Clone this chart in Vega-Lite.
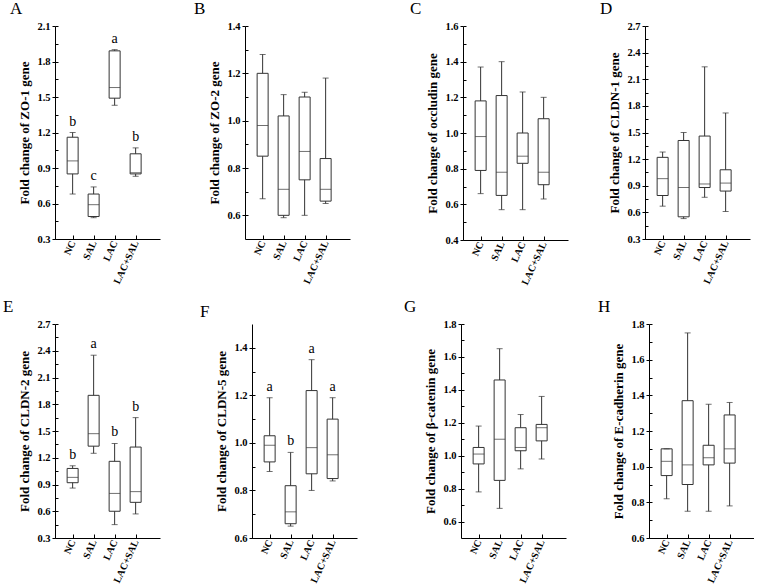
{
  "$schema": "https://vega.github.io/schema/vega-lite/v6.json",
  "background": "white",
  "padding": {"left": 3, "top": 0, "right": 0, "bottom": 0},
  "config": {
    "view": {"stroke": null},
    "font": "Liberation Serif",
    "axis": {"domainColor": "#000", "tickColor": "#000", "labelColor": "#000", "titleColor": "#000", "labelFont": "Liberation Serif", "titleFont": "Liberation Serif", "labelFontWeight": "bold", "titleFontWeight": "bold", "labelFontSize": 10, "titleFontSize": 13, "grid": false, "domainWidth": 1, "tickWidth": 1},
    "axisX": {"tickSize": -4, "labelAngle": -65, "labelPadding": 6, "title": null},
    "axisY": {"tickSize": 3, "labelPadding": 2, "titlePadding": 5, "format": ".1f", "labelFontSize": 10.5},
    "title": {"font": "Liberation Serif", "fontSize": 17, "fontWeight": "normal", "anchor": "start", "frame": "group", "offset": 3, "color": "#000"},
    "tick": {"color": "#333", "thickness": 1},
    "rule": {"color": "#333", "strokeWidth": 1},
    "bar": {"fill": "white", "stroke": "#333", "strokeWidth": 1},
    "text": {"font": "Liberation Serif", "fontSize": 14, "fill": "#000"}
  },
  "data": {"values": [
    {"panel": "A", "group": "NC", "min": 0.68, "q1": 0.85, "median": 0.96, "q3": 1.16, "max": 1.20, "letter": "b"},
    {"panel": "A", "group": "SAL", "min": 0.48, "q1": 0.49, "median": 0.59, "q3": 0.68, "max": 0.74, "letter": "c"},
    {"panel": "A", "group": "LAC", "min": 1.43, "q1": 1.49, "median": 1.58, "q3": 1.89, "max": 1.90, "letter": "a"},
    {"panel": "A", "group": "LAC+SAL", "min": 0.83, "q1": 0.85, "median": 0.86, "q3": 1.02, "max": 1.07, "letter": "b"},
    {"panel": "B", "group": "NC", "min": 0.67, "q1": 0.85, "median": 0.98, "q3": 1.20, "max": 1.28, "letter": ""},
    {"panel": "B", "group": "SAL", "min": 0.59, "q1": 0.60, "median": 0.71, "q3": 1.02, "max": 1.11, "letter": ""},
    {"panel": "B", "group": "LAC", "min": 0.60, "q1": 0.75, "median": 0.87, "q3": 1.10, "max": 1.12, "letter": ""},
    {"panel": "B", "group": "LAC+SAL", "min": 0.65, "q1": 0.66, "median": 0.71, "q3": 0.84, "max": 1.18, "letter": ""},
    {"panel": "C", "group": "NC", "min": 0.66, "q1": 0.79, "median": 0.98, "q3": 1.18, "max": 1.37, "letter": ""},
    {"panel": "C", "group": "SAL", "min": 0.57, "q1": 0.65, "median": 0.78, "q3": 1.21, "max": 1.40, "letter": ""},
    {"panel": "C", "group": "LAC", "min": 0.57, "q1": 0.83, "median": 0.87, "q3": 1.00, "max": 1.23, "letter": ""},
    {"panel": "C", "group": "LAC+SAL", "min": 0.63, "q1": 0.71, "median": 0.78, "q3": 1.08, "max": 1.20, "letter": ""},
    {"panel": "D", "group": "NC", "min": 0.67, "q1": 0.79, "median": 0.98, "q3": 1.22, "max": 1.28, "letter": ""},
    {"panel": "D", "group": "SAL", "min": 0.53, "q1": 0.55, "median": 0.88, "q3": 1.41, "max": 1.50, "letter": ""},
    {"panel": "D", "group": "LAC", "min": 0.77, "q1": 0.88, "median": 0.92, "q3": 1.46, "max": 2.24, "letter": ""},
    {"panel": "D", "group": "LAC+SAL", "min": 0.61, "q1": 0.84, "median": 0.93, "q3": 1.08, "max": 1.72, "letter": ""},
    {"panel": "E", "group": "NC", "min": 0.86, "q1": 0.92, "median": 0.98, "q3": 1.08, "max": 1.11, "letter": "b"},
    {"panel": "E", "group": "SAL", "min": 1.25, "q1": 1.33, "median": 1.47, "q3": 1.90, "max": 2.35, "letter": "a"},
    {"panel": "E", "group": "LAC", "min": 0.45, "q1": 0.60, "median": 0.80, "q3": 1.16, "max": 1.36, "letter": "b"},
    {"panel": "E", "group": "LAC+SAL", "min": 0.57, "q1": 0.70, "median": 0.82, "q3": 1.32, "max": 1.65, "letter": "b"},
    {"panel": "F", "group": "NC", "min": 0.88, "q1": 0.92, "median": 0.99, "q3": 1.03, "max": 1.19, "letter": "a"},
    {"panel": "F", "group": "SAL", "min": 0.65, "q1": 0.66, "median": 0.71, "q3": 0.82, "max": 0.96, "letter": "b"},
    {"panel": "F", "group": "LAC", "min": 0.80, "q1": 0.87, "median": 0.98, "q3": 1.22, "max": 1.35, "letter": "a"},
    {"panel": "F", "group": "LAC+SAL", "min": 0.84, "q1": 0.85, "median": 0.95, "q3": 1.10, "max": 1.19, "letter": "a"},
    {"panel": "G", "group": "NC", "min": 0.78, "q1": 0.95, "median": 1.01, "q3": 1.05, "max": 1.18, "letter": ""},
    {"panel": "G", "group": "SAL", "min": 0.68, "q1": 0.85, "median": 1.10, "q3": 1.46, "max": 1.65, "letter": ""},
    {"panel": "G", "group": "LAC", "min": 0.92, "q1": 1.03, "median": 1.05, "q3": 1.17, "max": 1.25, "letter": ""},
    {"panel": "G", "group": "LAC+SAL", "min": 0.98, "q1": 1.09, "median": 1.17, "q3": 1.19, "max": 1.36, "letter": ""},
    {"panel": "H", "group": "NC", "min": 0.82, "q1": 0.95, "median": 1.03, "q3": 1.10, "max": 1.10, "letter": ""},
    {"panel": "H", "group": "SAL", "min": 0.75, "q1": 0.90, "median": 1.01, "q3": 1.37, "max": 1.75, "letter": ""},
    {"panel": "H", "group": "LAC", "min": 0.75, "q1": 1.01, "median": 1.05, "q3": 1.12, "max": 1.35, "letter": ""},
    {"panel": "H", "group": "LAC+SAL", "min": 0.78, "q1": 1.02, "median": 1.10, "q3": 1.29, "max": 1.36, "letter": ""}
  ]},
  "spacing": 11,
  "vconcat": [
    {
      "spacing": 60,
      "hconcat": [
        {
          "spacing": 34,
          "hconcat": [
            {
              "title": {"text": "A", "dx": -45},
              "width": 105, "height": 213,
              "transform": [{"filter": "datum.panel == 'A'"}],
              "encoding": {"x": {"field": "group", "type": "nominal", "sort": ["NC", "SAL", "LAC", "LAC+SAL"], "scale": {"type": "point", "padding": 1.125, "align": 0.42}}},
              "layer": [
                {"mark": "rule", "encoding": {"y": {"field": "min", "type": "quantitative", "scale": {"domain": [0.3, 2.1], "nice": false, "zero": false}, "axis": {"title": "Fold change of ZO-1 gene", "values": [0.3, 0.6, 0.9, 1.2, 1.5, 1.8, 2.1]}}, "y2": {"field": "max"}}},
                {"mark": {"type": "bar", "size": 11}, "encoding": {"y": {"field": "q1", "type": "quantitative", "scale": {"domain": [0.3, 2.1], "nice": false, "zero": false}, "axis": null}, "y2": {"field": "q3"}}},
                {"mark": {"type": "tick", "size": 11}, "encoding": {"y": {"field": "median", "type": "quantitative", "scale": {"domain": [0.3, 2.1], "nice": false, "zero": false}, "axis": null}}},
                {"mark": {"type": "tick", "size": 6}, "encoding": {"y": {"field": "min", "type": "quantitative", "scale": {"domain": [0.3, 2.1], "nice": false, "zero": false}, "axis": null}}},
                {"mark": {"type": "tick", "size": 6}, "encoding": {"y": {"field": "max", "type": "quantitative", "scale": {"domain": [0.3, 2.1], "nice": false, "zero": false}, "axis": null}}},
                {"mark": {"type": "text", "baseline": "bottom", "dy": -4, "fill": "#000"}, "encoding": {"y": {"field": "max", "type": "quantitative", "scale": {"domain": [0.3, 2.1], "nice": false, "zero": false}, "axis": null}, "text": {"field": "letter"}}},
                {"mark": {"type": "tick", "opacity": 0}, "encoding": {"y": {"field": "median", "type": "quantitative", "scale": {"domain": [0.3, 2.1], "nice": false, "zero": false}, "axis": {"orient": "left", "title": null, "labels": false, "domain": false, "tickSize": -3, "values": [0.3, 0.45, 0.6, 0.75, 0.9, 1.05, 1.2, 1.35, 1.5, 1.65, 1.8, 1.95, 2.1]}}}}
              ],
              "resolve": {"axis": {"y": "independent"}}
            },
            {
              "title": {"text": "B", "dx": -51},
              "width": 105, "height": 213,
              "transform": [{"filter": "datum.panel == 'B'"}],
              "encoding": {"x": {"field": "group", "type": "nominal", "sort": ["NC", "SAL", "LAC", "LAC+SAL"], "scale": {"type": "point", "padding": 1.125, "align": 0.42}}},
              "layer": [
                {"mark": "rule", "encoding": {"y": {"field": "min", "type": "quantitative", "scale": {"domain": [0.5, 1.4], "nice": false, "zero": false}, "axis": {"title": "Fold change of ZO-2 gene", "values": [0.6, 0.8, 1.0, 1.2, 1.4]}}, "y2": {"field": "max"}}},
                {"mark": {"type": "bar", "size": 11}, "encoding": {"y": {"field": "q1", "type": "quantitative", "scale": {"domain": [0.5, 1.4], "nice": false, "zero": false}, "axis": null}, "y2": {"field": "q3"}}},
                {"mark": {"type": "tick", "size": 11}, "encoding": {"y": {"field": "median", "type": "quantitative", "scale": {"domain": [0.5, 1.4], "nice": false, "zero": false}, "axis": null}}},
                {"mark": {"type": "tick", "size": 6}, "encoding": {"y": {"field": "min", "type": "quantitative", "scale": {"domain": [0.5, 1.4], "nice": false, "zero": false}, "axis": null}}},
                {"mark": {"type": "tick", "size": 6}, "encoding": {"y": {"field": "max", "type": "quantitative", "scale": {"domain": [0.5, 1.4], "nice": false, "zero": false}, "axis": null}}},
                {"mark": {"type": "tick", "opacity": 0}, "encoding": {"y": {"field": "median", "type": "quantitative", "scale": {"domain": [0.5, 1.4], "nice": false, "zero": false}, "axis": {"orient": "left", "title": null, "labels": false, "domain": false, "tickSize": -3, "values": [0.6, 0.7, 0.8, 0.9, 1.0, 1.1, 1.2, 1.3, 1.4]}}}}
              ],
              "resolve": {"axis": {"y": "independent"}}
            }
          ]
        },
        {
          "spacing": 32,
          "hconcat": [
            {
              "title": {"text": "C", "dx": -53},
              "width": 105, "height": 214,
              "transform": [{"filter": "datum.panel == 'C'"}],
              "encoding": {"x": {"field": "group", "type": "nominal", "sort": ["NC", "SAL", "LAC", "LAC+SAL"], "scale": {"type": "point", "padding": 1.125, "align": 0.42}}},
              "layer": [
                {"mark": "rule", "encoding": {"y": {"field": "min", "type": "quantitative", "scale": {"domain": [0.4, 1.6], "nice": false, "zero": false}, "axis": {"title": "Fold change of occludin gene", "values": [0.4, 0.6, 0.8, 1.0, 1.2, 1.4, 1.6]}}, "y2": {"field": "max"}}},
                {"mark": {"type": "bar", "size": 11}, "encoding": {"y": {"field": "q1", "type": "quantitative", "scale": {"domain": [0.4, 1.6], "nice": false, "zero": false}, "axis": null}, "y2": {"field": "q3"}}},
                {"mark": {"type": "tick", "size": 11}, "encoding": {"y": {"field": "median", "type": "quantitative", "scale": {"domain": [0.4, 1.6], "nice": false, "zero": false}, "axis": null}}},
                {"mark": {"type": "tick", "size": 6}, "encoding": {"y": {"field": "min", "type": "quantitative", "scale": {"domain": [0.4, 1.6], "nice": false, "zero": false}, "axis": null}}},
                {"mark": {"type": "tick", "size": 6}, "encoding": {"y": {"field": "max", "type": "quantitative", "scale": {"domain": [0.4, 1.6], "nice": false, "zero": false}, "axis": null}}},
                {"mark": {"type": "tick", "opacity": 0}, "encoding": {"y": {"field": "median", "type": "quantitative", "scale": {"domain": [0.4, 1.6], "nice": false, "zero": false}, "axis": {"orient": "left", "title": null, "labels": false, "domain": false, "tickSize": -3, "values": [0.4, 0.5, 0.6, 0.7, 0.8, 0.9, 1.0, 1.1, 1.2, 1.3, 1.4, 1.5, 1.6]}}}}
              ],
              "resolve": {"axis": {"y": "independent"}}
            },
            {
              "title": {"text": "D", "dx": -45},
              "width": 105, "height": 213,
              "transform": [{"filter": "datum.panel == 'D'"}],
              "encoding": {"x": {"field": "group", "type": "nominal", "sort": ["NC", "SAL", "LAC", "LAC+SAL"], "scale": {"type": "point", "padding": 1.125, "align": 0.42}}},
              "layer": [
                {"mark": "rule", "encoding": {"y": {"field": "min", "type": "quantitative", "scale": {"domain": [0.3, 2.7], "nice": false, "zero": false}, "axis": {"title": "Fold change of CLDN-1 gene", "values": [0.3, 0.6, 0.9, 1.2, 1.5, 1.8, 2.1, 2.4, 2.7]}}, "y2": {"field": "max"}}},
                {"mark": {"type": "bar", "size": 11}, "encoding": {"y": {"field": "q1", "type": "quantitative", "scale": {"domain": [0.3, 2.7], "nice": false, "zero": false}, "axis": null}, "y2": {"field": "q3"}}},
                {"mark": {"type": "tick", "size": 11}, "encoding": {"y": {"field": "median", "type": "quantitative", "scale": {"domain": [0.3, 2.7], "nice": false, "zero": false}, "axis": null}}},
                {"mark": {"type": "tick", "size": 6}, "encoding": {"y": {"field": "min", "type": "quantitative", "scale": {"domain": [0.3, 2.7], "nice": false, "zero": false}, "axis": null}}},
                {"mark": {"type": "tick", "size": 6}, "encoding": {"y": {"field": "max", "type": "quantitative", "scale": {"domain": [0.3, 2.7], "nice": false, "zero": false}, "axis": null}}},
                {"mark": {"type": "tick", "opacity": 0}, "encoding": {"y": {"field": "median", "type": "quantitative", "scale": {"domain": [0.3, 2.7], "nice": false, "zero": false}, "axis": {"orient": "left", "title": null, "labels": false, "domain": false, "tickSize": -3, "values": [0.3, 0.45, 0.6, 0.75, 0.9, 1.05, 1.2, 1.35, 1.5, 1.65, 1.8, 1.95, 2.1, 2.25, 2.4, 2.55, 2.7]}}}}
              ],
              "resolve": {"axis": {"y": "independent"}}
            }
          ]
        }
      ]
    },
    {
      "spacing": 47,
      "hconcat": [
        {
          "spacing": 40,
          "hconcat": [
            {
              "title": {"text": "E", "dx": -52},
              "width": 105, "height": 214,
              "transform": [{"filter": "datum.panel == 'E'"}],
              "encoding": {"x": {"field": "group", "type": "nominal", "sort": ["NC", "SAL", "LAC", "LAC+SAL"], "scale": {"type": "point", "padding": 1.125, "align": 0.42}}},
              "layer": [
                {"mark": "rule", "encoding": {"y": {"field": "min", "type": "quantitative", "scale": {"domain": [0.3, 2.7], "nice": false, "zero": false}, "axis": {"title": "Fold change of CLDN-2 gene", "values": [0.3, 0.6, 0.9, 1.2, 1.5, 1.8, 2.1, 2.4, 2.7]}}, "y2": {"field": "max"}}},
                {"mark": {"type": "bar", "size": 11}, "encoding": {"y": {"field": "q1", "type": "quantitative", "scale": {"domain": [0.3, 2.7], "nice": false, "zero": false}, "axis": null}, "y2": {"field": "q3"}}},
                {"mark": {"type": "tick", "size": 11}, "encoding": {"y": {"field": "median", "type": "quantitative", "scale": {"domain": [0.3, 2.7], "nice": false, "zero": false}, "axis": null}}},
                {"mark": {"type": "tick", "size": 6}, "encoding": {"y": {"field": "min", "type": "quantitative", "scale": {"domain": [0.3, 2.7], "nice": false, "zero": false}, "axis": null}}},
                {"mark": {"type": "tick", "size": 6}, "encoding": {"y": {"field": "max", "type": "quantitative", "scale": {"domain": [0.3, 2.7], "nice": false, "zero": false}, "axis": null}}},
                {"mark": {"type": "text", "baseline": "bottom", "dy": -4, "fill": "#000"}, "encoding": {"y": {"field": "max", "type": "quantitative", "scale": {"domain": [0.3, 2.7], "nice": false, "zero": false}, "axis": null}, "text": {"field": "letter"}}},
                {"mark": {"type": "tick", "opacity": 0}, "encoding": {"y": {"field": "median", "type": "quantitative", "scale": {"domain": [0.3, 2.7], "nice": false, "zero": false}, "axis": {"orient": "left", "title": null, "labels": false, "domain": false, "tickSize": -3, "values": [0.3, 0.45, 0.6, 0.75, 0.9, 1.05, 1.2, 1.35, 1.5, 1.65, 1.8, 1.95, 2.1, 2.25, 2.4, 2.55, 2.7]}}}}
              ],
              "resolve": {"axis": {"y": "independent"}}
            },
            {
              "title": {"text": "F", "dx": -52},
              "width": 105, "height": 214,
              "transform": [{"filter": "datum.panel == 'F'"}],
              "encoding": {"x": {"field": "group", "type": "nominal", "sort": ["NC", "SAL", "LAC", "LAC+SAL"], "scale": {"type": "point", "padding": 1.125, "align": 0.42}}},
              "layer": [
                {"mark": "rule", "encoding": {"y": {"field": "min", "type": "quantitative", "scale": {"domain": [0.6, 1.5], "nice": false, "zero": false}, "axis": {"title": "Fold change of CLDN-5 gene", "values": [0.6, 0.8, 1.0, 1.2, 1.4]}}, "y2": {"field": "max"}}},
                {"mark": {"type": "bar", "size": 11}, "encoding": {"y": {"field": "q1", "type": "quantitative", "scale": {"domain": [0.6, 1.5], "nice": false, "zero": false}, "axis": null}, "y2": {"field": "q3"}}},
                {"mark": {"type": "tick", "size": 11}, "encoding": {"y": {"field": "median", "type": "quantitative", "scale": {"domain": [0.6, 1.5], "nice": false, "zero": false}, "axis": null}}},
                {"mark": {"type": "tick", "size": 6}, "encoding": {"y": {"field": "min", "type": "quantitative", "scale": {"domain": [0.6, 1.5], "nice": false, "zero": false}, "axis": null}}},
                {"mark": {"type": "tick", "size": 6}, "encoding": {"y": {"field": "max", "type": "quantitative", "scale": {"domain": [0.6, 1.5], "nice": false, "zero": false}, "axis": null}}},
                {"mark": {"type": "text", "baseline": "bottom", "dy": -4, "fill": "#000"}, "encoding": {"y": {"field": "max", "type": "quantitative", "scale": {"domain": [0.6, 1.5], "nice": false, "zero": false}, "axis": null}, "text": {"field": "letter"}}},
                {"mark": {"type": "tick", "opacity": 0}, "encoding": {"y": {"field": "median", "type": "quantitative", "scale": {"domain": [0.6, 1.5], "nice": false, "zero": false}, "axis": {"orient": "left", "title": null, "labels": false, "domain": false, "tickSize": -3, "values": [0.6, 0.7, 0.8, 0.9, 1.0, 1.1, 1.2, 1.3, 1.4]}}}}
              ],
              "resolve": {"axis": {"y": "independent"}}
            }
          ]
        },
        {
          "spacing": 32,
          "hconcat": [
            {
              "title": {"text": "G", "dx": -57},
              "width": 105, "height": 214,
              "transform": [{"filter": "datum.panel == 'G'"}],
              "encoding": {"x": {"field": "group", "type": "nominal", "sort": ["NC", "SAL", "LAC", "LAC+SAL"], "scale": {"type": "point", "padding": 1.125, "align": 0.42}}},
              "layer": [
                {"mark": "rule", "encoding": {"y": {"field": "min", "type": "quantitative", "scale": {"domain": [0.5, 1.8], "nice": false, "zero": false}, "axis": {"title": "Fold change of β-catenin gene", "values": [0.6, 0.8, 1.0, 1.2, 1.4, 1.6, 1.8]}}, "y2": {"field": "max"}}},
                {"mark": {"type": "bar", "size": 11}, "encoding": {"y": {"field": "q1", "type": "quantitative", "scale": {"domain": [0.5, 1.8], "nice": false, "zero": false}, "axis": null}, "y2": {"field": "q3"}}},
                {"mark": {"type": "tick", "size": 11}, "encoding": {"y": {"field": "median", "type": "quantitative", "scale": {"domain": [0.5, 1.8], "nice": false, "zero": false}, "axis": null}}},
                {"mark": {"type": "tick", "size": 6}, "encoding": {"y": {"field": "min", "type": "quantitative", "scale": {"domain": [0.5, 1.8], "nice": false, "zero": false}, "axis": null}}},
                {"mark": {"type": "tick", "size": 6}, "encoding": {"y": {"field": "max", "type": "quantitative", "scale": {"domain": [0.5, 1.8], "nice": false, "zero": false}, "axis": null}}},
                {"mark": {"type": "tick", "opacity": 0}, "encoding": {"y": {"field": "median", "type": "quantitative", "scale": {"domain": [0.5, 1.8], "nice": false, "zero": false}, "axis": {"orient": "left", "title": null, "labels": false, "domain": false, "tickSize": -3, "values": [0.6, 0.7, 0.8, 0.9, 1.0, 1.1, 1.2, 1.3, 1.4, 1.5, 1.6, 1.7, 1.8]}}}}
              ],
              "resolve": {"axis": {"y": "independent"}}
            },
            {
              "title": {"text": "H", "dx": -51},
              "width": 105, "height": 214,
              "transform": [{"filter": "datum.panel == 'H'"}],
              "encoding": {"x": {"field": "group", "type": "nominal", "sort": ["NC", "SAL", "LAC", "LAC+SAL"], "scale": {"type": "point", "padding": 1.125, "align": 0.42}}},
              "layer": [
                {"mark": "rule", "encoding": {"y": {"field": "min", "type": "quantitative", "scale": {"domain": [0.6, 1.8], "nice": false, "zero": false}, "axis": {"title": "Fold change of E-cadherin gene", "values": [0.6, 0.8, 1.0, 1.2, 1.4, 1.6, 1.8]}}, "y2": {"field": "max"}}},
                {"mark": {"type": "bar", "size": 11}, "encoding": {"y": {"field": "q1", "type": "quantitative", "scale": {"domain": [0.6, 1.8], "nice": false, "zero": false}, "axis": null}, "y2": {"field": "q3"}}},
                {"mark": {"type": "tick", "size": 11}, "encoding": {"y": {"field": "median", "type": "quantitative", "scale": {"domain": [0.6, 1.8], "nice": false, "zero": false}, "axis": null}}},
                {"mark": {"type": "tick", "size": 6}, "encoding": {"y": {"field": "min", "type": "quantitative", "scale": {"domain": [0.6, 1.8], "nice": false, "zero": false}, "axis": null}}},
                {"mark": {"type": "tick", "size": 6}, "encoding": {"y": {"field": "max", "type": "quantitative", "scale": {"domain": [0.6, 1.8], "nice": false, "zero": false}, "axis": null}}},
                {"mark": {"type": "tick", "opacity": 0}, "encoding": {"y": {"field": "median", "type": "quantitative", "scale": {"domain": [0.6, 1.8], "nice": false, "zero": false}, "axis": {"orient": "left", "title": null, "labels": false, "domain": false, "tickSize": -3, "values": [0.6, 0.7, 0.8, 0.9, 1.0, 1.1, 1.2, 1.3, 1.4, 1.5, 1.6, 1.7, 1.8]}}}}
              ],
              "resolve": {"axis": {"y": "independent"}}
            }
          ]
        }
      ]
    }
  ]
}
